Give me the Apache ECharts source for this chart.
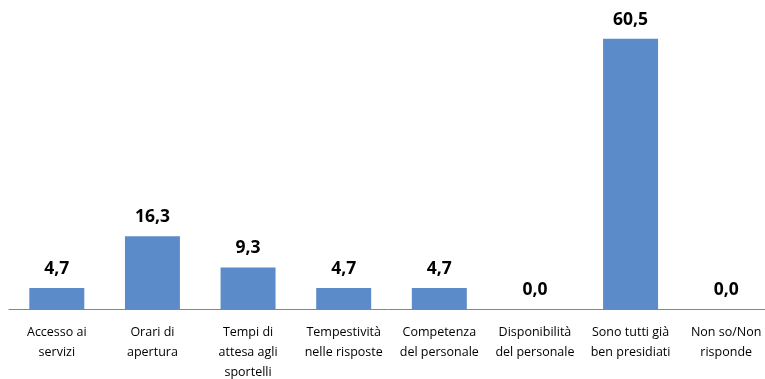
<!DOCTYPE html>
<html><head><meta charset="utf-8">
<script src="https://cdn.jsdelivr.net/npm/echarts@6/dist/echarts.min.js"></script>
<style>html,body{margin:0;padding:0;background:#fff}#c{width:765px;height:379px}</style>
</head><body><div id="c"></div>
<script>
const categories = ["Accesso ai\nservizi","Orari di\napertura","Tempi di\nattesa agli\nsportelli","Tempestività\nnelle risposte","Competenza\ndel personale","Disponibilità\ndel personale","Sono tutti già\nben presidiati","Non so/Non\nrisponde"];
const values = [4.7, 16.3, 9.3, 4.7, 4.7, 0.0, 60.5, 0.0];
const chart = echarts.init(document.getElementById('c'));
chart.setOption({
  animation:false,
  grid:{left:9,width:765,top:0,bottom:70,containLabel:false,outerBoundsMode:'none'},
  xAxis:{type:'category',data:categories,
    axisLine:{lineStyle:{color:'#868686',width:1}},
    axisTick:{show:false},
    axisLabel:{interval:0,color:'#000',fontFamily:'Open Sans',fontSize:12.5,lineHeight:20,margin:13}},
  yAxis:{type:'value',min:0,max:69.2,show:false,splitLine:{show:false}},
  series:[{type:'bar',data:values,barWidth:'57.5%',
    itemStyle:{color:'#5b8bc8'},
    label:{show:true,position:'top',distance:10,color:'#000',fontWeight:'bold',fontFamily:'Open Sans',fontSize:17.5,
      formatter:p=>p.value.toFixed(1).replace('.',',')}}]
});
</script></body></html>
